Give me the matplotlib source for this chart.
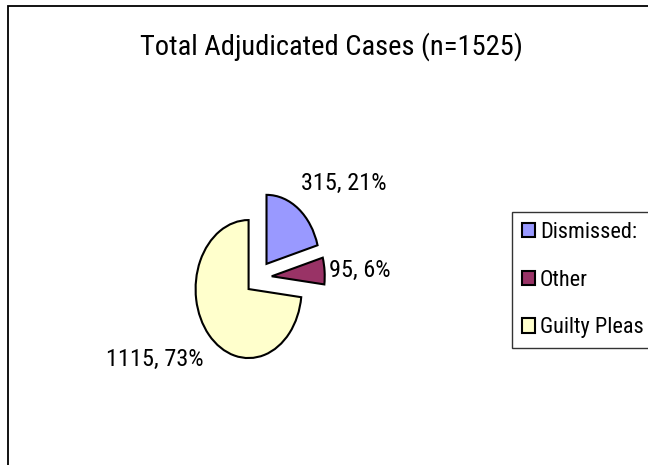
import matplotlib
matplotlib.use("Agg")
import matplotlib.pyplot as plt
from matplotlib.patches import Rectangle

# chart data
categories = ["Dismissed:", "Other", "Guilty Pleas"]
counts = [315, 95, 1115]
colors = ["#9999FF", "#993366", "#FFFFCC"]
title = "Total Adjudicated Cases (n=1525)"

plt.rcParams["font.family"] = ["Roboto Condensed", "DejaVu Sans"]

W, H = 648, 465
fig = plt.figure(figsize=(W / 100, H / 100), dpi=100)

# outer chart-area border (right/bottom run off the image)
fig.patches.append(Rectangle((8 / W, -0.1), 1.2, 1 - 6 / H + 0.1,
                             transform=fig.transFigure, fill=False,
                             edgecolor="black", linewidth=1.3))

# pie axes: 53 px per unit horizontally, 69 px per unit vertically
cx, cy = 258.5, H - 277.6
rx, ry = 53, 69
span = 2.6
ax = fig.add_axes([(cx - span * rx) / W, (cy - span * ry) / H,
                   2 * span * rx / W, 2 * span * ry / H])

total = sum(counts)
labels = [f"{c}, {round(100 * c / total)}%" for c in counts]
wedges, texts = ax.pie(counts, colors=colors, startangle=90, counterclock=False,
                       explode=[0.25] * len(counts), labels=labels,
                       wedgeprops=dict(edgecolor="black", linewidth=1.5),
                       textprops=dict(fontsize=17.5))
ax.set_aspect("auto")
ax.set_xlim(-span, span)
ax.set_ylim(-span, span)

label_pos = [(1.61, 1.36), (1.92, 0.11), (-1.95, -1.19)]
for t, (x, y) in zip(texts, label_pos):
    t.set_position((x, y))
    t.set_ha("center")
    t.set_va("center")

fig.text(331 / W, 1 - 47 / H, title, ha="center", va="center", fontsize=20.5)

leg = fig.legend(wedges, categories, loc="upper left",
                 bbox_to_anchor=(512 / W, 1 - 212 / H), fontsize=16,
                 frameon=True, fancybox=False, edgecolor="black",
                 handlelength=0.6, handleheight=0.6, handletextpad=0.2,
                 labelspacing=1.2, borderpad=0.45, borderaxespad=0)
leg.get_frame().set_linewidth(1.0)
for h in leg.legend_handles:
    h.set_edgecolor("black")
    h.set_linewidth(1.5)

fig.savefig("out.png", dpi=100)
